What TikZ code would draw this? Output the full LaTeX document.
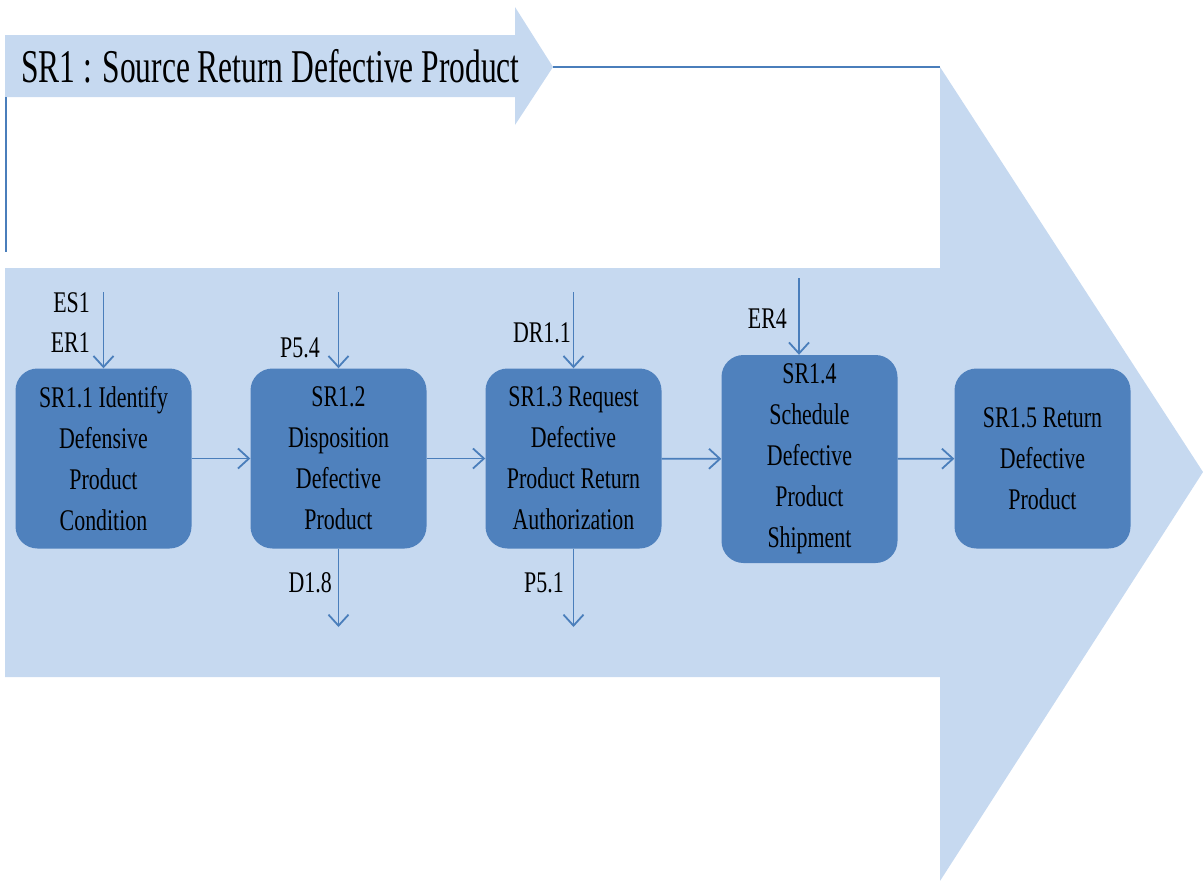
\documentclass[tikz,border=0pt]{standalone}
\usepackage{fontspec}
\setmainfont{Liberation Serif}[FakeStretch=0.73]
\newfontfamily\headfont{Liberation Serif}[FakeStretch=0.67]
\usetikzlibrary{arrows.meta}
\definecolor{bandfill}{HTML}{C6D9F0}
\definecolor{stepfill}{HTML}{4F81BD}
\definecolor{flowline}{HTML}{4A7EBB}

\begin{document}
\begin{tikzpicture}[x=1pt,y=-1pt,
  stepbox/.style={rounded corners=22pt, fill=stepfill, minimum width=176pt,
    minimum height=180pt, inner sep=0pt, align=center,
    font=\fontsize{30}{41}\selectfont},
  flow/.style={draw=flowline, line width=1.8pt,
    -{Straight Barb[length=11pt,width=20pt]}},
  tag/.style={anchor=base east, inner sep=0pt, font=\fontsize{30}{36}\selectfont},
  edge/.style={draw=flowline, line width=2pt}]
\useasboundingbox (0,0) rectangle (1203,881);

% large process arrow behind the steps
\fill[bandfill] (5,268) -- (940,268) -- (940,67) -- (1203,472) -- (940,881)
  -- (940,677) -- (5,677) -- cycle;

% title arrow
\fill[bandfill] (5,35) -- (515,35) -- (515,7) -- (553,67) -- (515,125)
  -- (515,97) -- (5,97) -- cycle;
\node[anchor=base west, inner sep=0pt, font=\headfont\fontsize{47}{50}\selectfont]
  (title) at (21,82) {SR1 : Source Return Defective Product};

% outline strokes
\coordinate (ttip) at (553,67);
\coordinate (hcorner) at (940,67);
\coordinate (ltop) at (6,97);
\coordinate (lbot) at (6,252);
\draw[edge] (ttip) -- (hcorner);
\draw[edge] (ltop) -- (lbot);

% process steps
\node[stepbox] (s1) at (103.5,458.5) {SR1.1 Identify\\Defensive\\Product\\Condition};
\node[stepbox] (s2) at (338.5,458.5) {SR1.2\\Disposition\\Defective\\Product};
\node[stepbox] (s3) at (573.5,458.5) {SR1.3 Request\\Defective\\Product Return\\Authorization};
\node[stepbox, minimum height=208pt] (s4) at (809.5,459) {SR1.4\\Schedule\\Defective\\Product\\Shipment};
\node[stepbox] (s5) at (1042.5,458.5) {SR1.5 Return\\Defective\\Product};

% flow between steps
\draw[flow] (s1) -- (s2);
\draw[flow] (s2) -- (s3);
\draw[flow] (s3) -- (s4);
\draw[flow] (s4) -- (s5);

% inputs
\coordinate (i1) at (103.5,292);
\draw[flow] (i1) -- (s1.north);
\node[tag] (lES1) at (90,312) {ES1};
\node[tag] (lER1) at (90,352) {ER1};

\coordinate (i2) at (338.5,292);
\draw[flow] (i2) -- (s2.north);
\node[tag] (lP54) at (320,357) {P5.4};

\coordinate (i3) at (573.5,292);
\draw[flow] (i3) -- (s3.north);
\node[tag] (lDR11) at (571,342) {DR1.1};

\coordinate (i4) at (799,278);
\draw[flow] (i4) -- (i4 |- s4.north);
\node[tag] (lER4) at (787,328) {ER4};

% outputs
\coordinate (o2) at (338.5,627);
\draw[flow] (s2.south) -- (o2);
\node[tag] (lD18) at (332,592) {D1.8};

\coordinate (o3) at (573.5,627);
\draw[flow] (s3.south) -- (o3);
\node[tag] (lP51) at (564,592) {P5.1};
\end{tikzpicture}
\end{document}
